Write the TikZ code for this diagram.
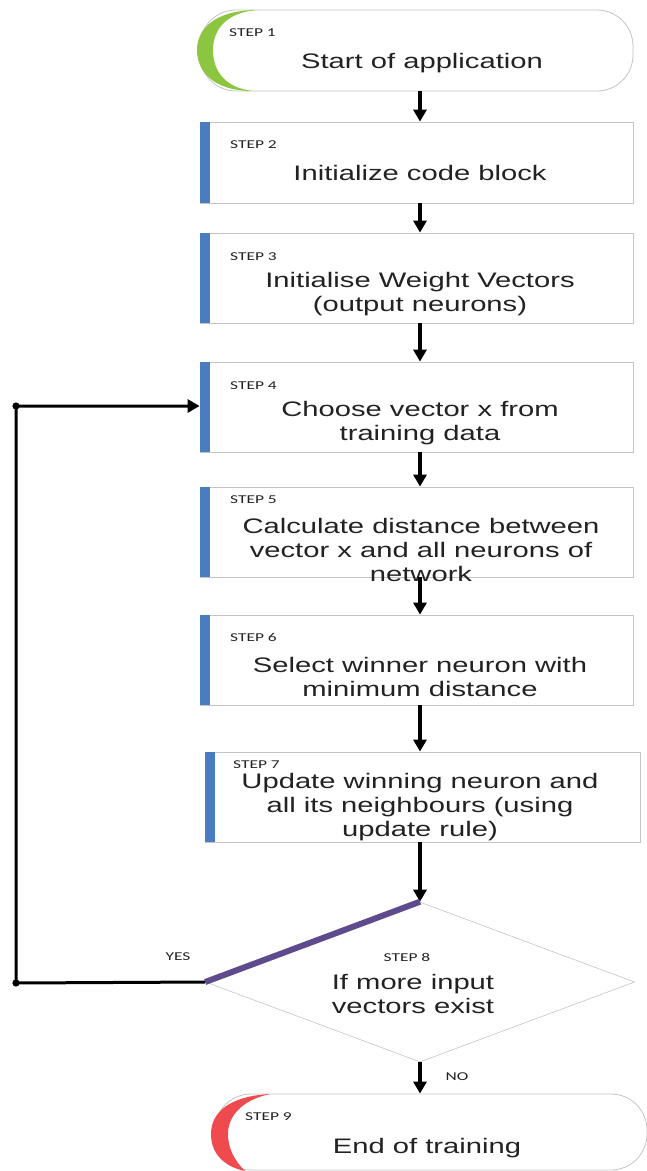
\documentclass[tikz,border=0pt]{standalone}
\usepackage{fontspec}
\setmainfont{Liberation Sans}
\newfontfamily\bodyfont[FakeStretch=1.39]{Liberation Sans}
\newfontfamily\tagfont[FakeStretch=1.45]{Carlito}
\usetikzlibrary{arrows.meta,shapes.geometric}
\definecolor{barblue}{HTML}{4A7DC0}
\definecolor{edgegray}{HTML}{C4C4C4}
\definecolor{startgreen}{HTML}{8CC641}
\definecolor{stopred}{HTML}{EF4B4F}
\definecolor{loopviolet}{HTML}{5E4B8E}
\definecolor{inkgray}{HTML}{222222}
\begin{document}
\begin{tikzpicture}[x=1pt,y=-1pt,
  stepbox/.style={draw=edgegray, line width=0.8pt, fill=white, inner sep=0pt,
    minimum width=#1, minimum height=90pt},
  stepbox/.default=433pt,
  termbox/.style={draw=edgegray, line width=0.8pt, fill=white, inner sep=0pt,
    rounded corners=36pt},
  tag/.style={font=\tagfont\fontsize{12}{14}\selectfont, text=inkgray, inner sep=0pt, anchor=west},
  body/.style={font=\bodyfont\fontsize{21}{24}\selectfont, text=inkgray, align=center, inner sep=0pt},
  flow/.style={line width=3.2pt, -{Triangle[length=12pt,width=13pt]}},
  joint/.style={fill=black}
]
\useasboundingbox (0,0) rectangle (647,1171);
\coordinate (col) at (420,0);

% terminals and process boxes
\node[termbox, minimum width=433pt, minimum height=81pt] (s1) at (416.5,50.5) {};
\node[stepbox, minimum height=81pt] (s2) at (416.5,162.5) {};
\node[stepbox] (s3) at (416.5,278) {};
\node[stepbox] (s4) at (416.5,407) {};
\node[stepbox] (s5) at (416.5,532) {};
\node[stepbox] (s6) at (416.5,660) {};
\node[stepbox=435pt] (s7) at (422.5,797) {};
\node[draw=edgegray, line width=0.6pt, shape=diamond, inner sep=0pt,
      minimum width=429pt, minimum height=160pt] (s8) at (420,982) {};
\node[termbox, minimum width=432pt, minimum height=76pt] (s9) at (431,1132) {};

% blue bars on the process boxes
\foreach \b in {s2,s3,s4,s5,s6,s7}
  \fill[barblue] (\b.north west) rectangle ([xshift=10pt]\b.south west);

% crescents on the terminals
\fill[startgreen] (258,10) .. controls (216,10) and (197,28) .. (197,50)
  .. controls (197,72) and (214,91) .. (253,91)
  .. controls (226,88) and (213,72) .. (213,50)
  .. controls (213,30) and (226,12) .. (258,10) -- cycle;
\fill[stopred] (270,1094) .. controls (230,1096) and (211,1112) .. (211,1134)
  .. controls (211,1152) and (222,1166) .. (245,1171)
  .. controls (234,1160) and (228,1148) .. (228,1134)
  .. controls (228,1116) and (242,1100) .. (270,1094) -- cycle;

% step tags
\node[tag] (t1) at (229,33) {STEP 1};
\node[tag] (t2) at (230,145) {STEP 2};
\node[tag] (t3) at (230,257) {STEP 3};
\node[tag] (t4) at (230,386) {STEP 4};
\node[tag] (t5) at (230,500) {STEP 5};
\node[tag] (t6) at (230,637) {STEP 6};
\node[tag] (t7) at (233,765) {STEP 7};
\node[tag, anchor=center] (t8) at (407,957) {STEP 8};
\node[tag] (t9) at (245,1117) {STEP 9};

% step texts
\node[body] (b1) at (422,63) {Start of application};
\node[body] (b2) at (420,173) {Initialize code block};
\node[body] (b3) at (420,294.5) {Initialise Weight Vectors\\(output neurons)};
\node[body] (b4) at (420,423) {Choose vector x from\\training data};
\node[body] (b5) at (421,550) {Calculate distance between\\vector x and all neurons of\\network};
\node[body] (b6) at (420,676.5) {Select winner neuron with\\minimum distance};
\node[body] (b7) at (420,807.5) {Update winning neuron and\\all its neighbours (using\\update rule)};
\node[body] (b8) at (413,994) {If more input\\vectors exist};
\node[body] (b9) at (427,1148) {End of training};

% branch labels
\node[tag, anchor=center] (yes) at (178,957) {YES};
\node[tag, anchor=center] (no) at (457,1077) {NO};

% main flow
\draw[flow] (s1.south -| col) -- (s2.north -| col);
\draw[flow] (s2.south -| col) -- (s3.north -| col);
\draw[flow] (s3.south -| col) -- (s4.north -| col);
\draw[flow] (s4.south -| col) -- (s5.north -| col);
\draw[flow] (s5.south -| col) -- (s6.north -| col);
\draw[flow] (s6.south -| col) -- (s7.north -| col);
\draw[flow] (s7.south -| col) -- (s8.north);
\draw[flow] (s8.south) -- (s9.north -| s8.south);

% loop back on YES
\draw[loopviolet, line width=6pt] (s8.west) -- (s8.north);
\coordinate (lb) at (16,983);
\coordinate (lt) at (16,406);
\draw[line width=3pt, -{Triangle[length=12pt,width=13pt]}]
  (s8.west) -- (lb) -- (lt) -- (lt -| s4.west);
\fill[joint] (lb) circle (3.6pt);
\fill[joint] (lt) circle (3.6pt);
\end{tikzpicture}
\end{document}
